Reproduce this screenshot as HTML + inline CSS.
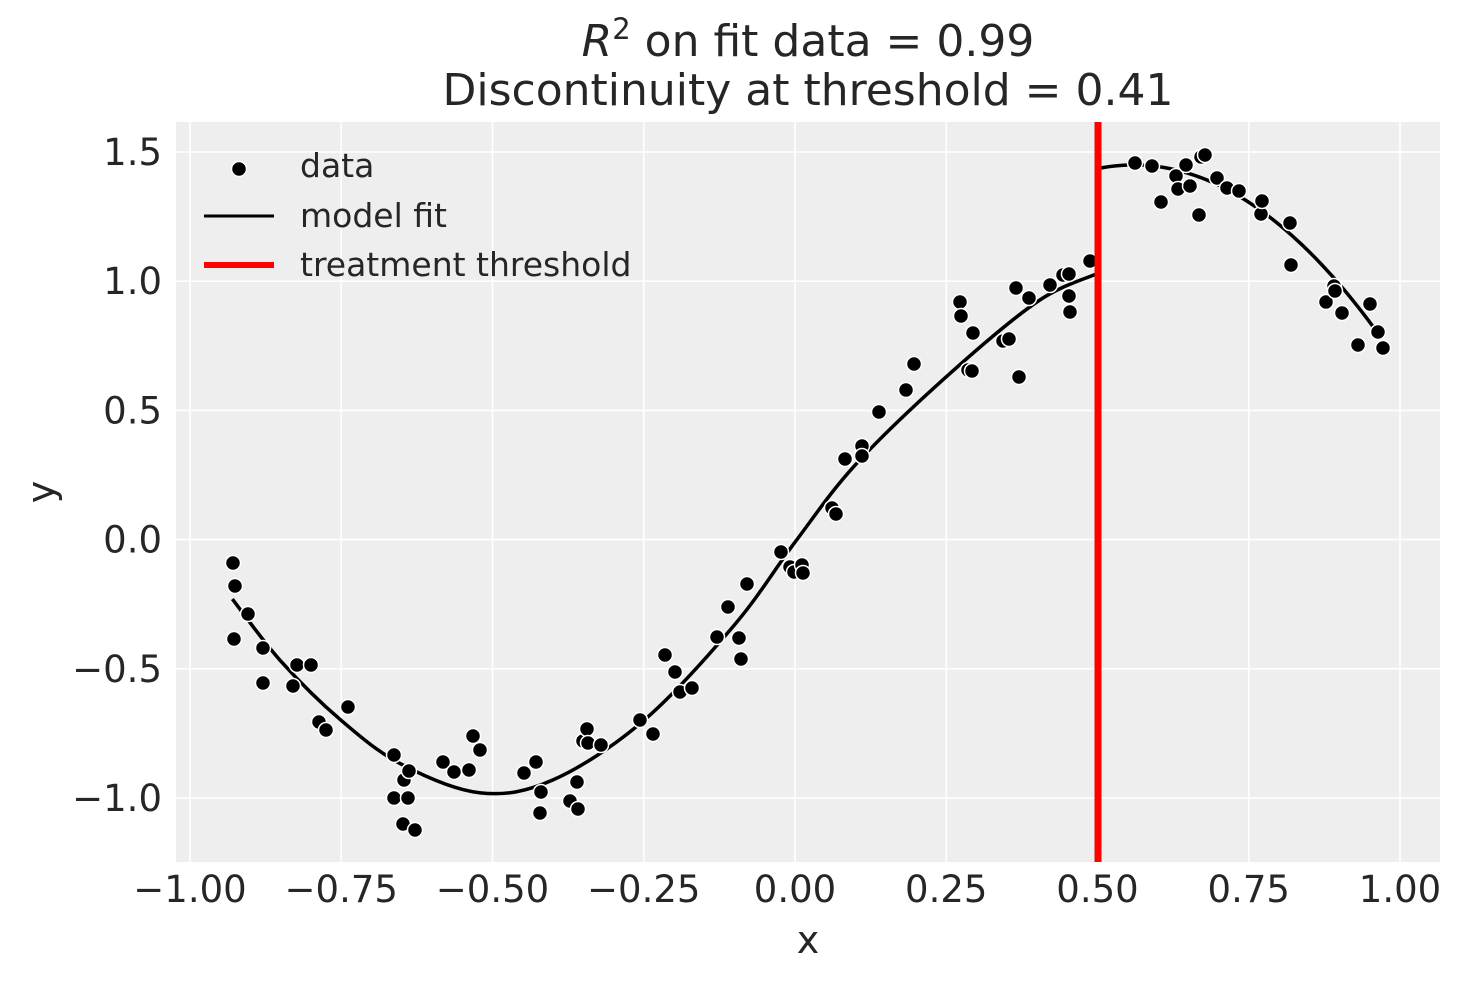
<!DOCTYPE html>
<html><head><meta charset="utf-8"><style>
html,body{margin:0;padding:0;background:#fff}
svg text{font-family:"DejaVu Sans","Liberation Sans",sans-serif;fill:#262626}
</style></head><body>
<svg id="s" width="1463" height="983" xmlns="http://www.w3.org/2000/svg">
<rect x="176" y="122" width="1264" height="740" fill="#eeeeee"/>
<g id="grid" stroke="#fff" stroke-width="1.6"></g>
<g id="ticks" style="font-size:37px"></g>
<path id="fitL" fill="none" stroke="#000" stroke-width="3.5"/>
<path id="fitR" fill="none" stroke="#000" stroke-width="3.5"/>
<g id="pts" fill="#000" stroke="#fff" stroke-width="1.5"></g>
<line x1="1098" y1="122" x2="1098" y2="862" stroke="#ff0000" stroke-width="7"/>
<text x="808" y="56" style="font-size:44px" text-anchor="middle"><tspan font-style="italic">R</tspan><tspan style="font-size:29px" dy="-17">2</tspan><tspan dy="17"> on fit data = 0.99</tspan></text>
<text x="808" y="105" style="font-size:44px" text-anchor="middle">Discontinuity at threshold = 0.41</text>
<text x="808" y="953" style="font-size:38px" text-anchor="middle">x</text>
<text transform="translate(54,492) rotate(-90)" style="font-size:38px" text-anchor="middle">y</text>
<circle cx="239" cy="169" r="7.5" fill="#000" stroke="#fff" stroke-width="1.5"/>
<text x="300" y="177" style="font-size:33px">data</text>
<line x1="204" y1="216" x2="274" y2="216" stroke="#000" stroke-width="3"/>
<text x="300" y="227" style="font-size:33px">model fit</text>
<line x1="204" y1="265" x2="274" y2="265" stroke="#ff0000" stroke-width="6"/>
<text x="300" y="276" style="font-size:33px">treatment threshold</text>
</svg>
<script>
const X=x=>795+605*x, Y=y=>539.6-258.4*y;
let g='',t='';
for(let i=0;i<9;i++){const v=-1+i*0.25,px=X(v);g+=`<line x1="${px}" y1="122" x2="${px}" y2="862"/>`;t+=`<text x="${px}" y="902" text-anchor="middle">${(v<0?'\u2212':'')+Math.abs(v).toFixed(2)}</text>`;}
for(let i=0;i<6;i++){const v=-1+i*0.5,py=Y(v);g+=`<line x1="176" y1="${py}" x2="1440" y2="${py}"/>`;t+=`<text x="162" y="${py+13}" text-anchor="end">${(v<0?'\u2212':'')+Math.abs(v).toFixed(1)}</text>`;}
document.getElementById('grid').innerHTML=g;document.getElementById('ticks').innerHTML=t;
const K=[[-0.93,-0.23],[-0.85,-0.47],[-0.75,-0.70],[-0.65,-0.87],[-0.52,-0.98],[-0.4,-0.93],[-0.25,-0.70],[-0.1,-0.33],[0,-0.01],[0.1,0.29],[0.25,0.63],[0.4,0.92],[0.5,1.03]].map(([x,y])=>[X(x),Y(y)]);
let d='M'+K[0][0]+','+K[0][1];
for(let i=0;i<K.length-1;i++){const p0=K[Math.max(i-1,0)],p1=K[i],p2=K[i+1],p3=K[Math.min(i+2,K.length-1)];
d+=`C${p1[0]+(p2[0]-p0[0])/6},${p1[1]+(p2[1]-p0[1])/6} ${p2[0]-(p3[0]-p1[0])/6},${p2[1]-(p3[1]-p1[1])/6} ${p2[0]},${p2[1]}`;}
document.getElementById('fitL').setAttribute('d',d);
d='';for(let x=0.5;x<=0.9701;x+=0.01){const y=1.45-4.0*(x-0.56)**2;d+=(d?'L':'M')+X(x)+','+Y(y);}
document.getElementById('fitR').setAttribute('d',d);
const P=[[233,563],[235,586],[234,639],[248,614],[263,648],[263,683],[293,686],[297,665],[311,665],[319,722],[326,730],[348,707],[394,755],[394,798],[404,780],[408,798],[409,771],[403,824],[415,830],[443,762],[454,772],[469,770],[473,736],[480,750],[524,773],[536,762],[541,792],[540,813],[570,801],[577,782],[578,809],[583,741],[587,729],[588,743],[601,745],[640,720],[653,734],[665,655],[675,672],[680,692],[692,688],[717,637],[728,607],[739,638],[741,659],[747,584],[781,552],[790,567],[794,572],[802,565],[803,573],[832,508],[836,514],[845,459],[862,446],[862,456],[879,412],[906,390],[914,364],[960,302],[961,316],[968,370],[972,371],[973,333],[1003,341],[1009,339],[1016,288],[1019,377],[1029,298],[1050,285],[1063,275],[1069,274],[1069,296],[1070,312],[1090,261],[1135,163],[1152,166],[1161,202],[1176,176],[1178,189],[1186,165],[1190,186],[1199,215],[1201,157],[1205,155],[1217,178],[1227,188],[1239,191],[1261,214],[1262,201],[1290,223],[1291,265],[1326,302],[1334,286],[1335,291],[1342,313],[1358,345],[1370,304],[1378,332],[1383,348]];
document.getElementById('pts').innerHTML=P.map(p=>`<circle cx="${p[0]}" cy="${p[1]}" r="7.5"/>`).join('');
</script>
</body></html>
